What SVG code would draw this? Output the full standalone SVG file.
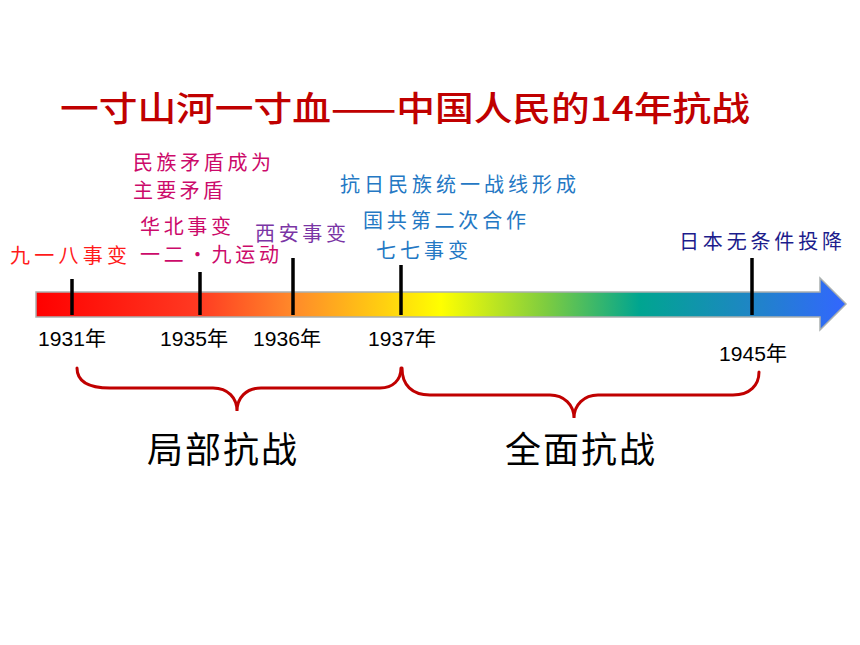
<svg xmlns="http://www.w3.org/2000/svg" width="860" height="645" viewBox="0 0 860 645">
<defs>
<linearGradient id="barGrad" gradientUnits="userSpaceOnUse" x1="36" y1="0" x2="846" y2="0">
<stop offset="0" stop-color="#ff0000"/>
<stop offset="0.2" stop-color="#ff3a22"/>
<stop offset="0.318" stop-color="#ff8a2a"/>
<stop offset="0.43" stop-color="#ffd010"/>
<stop offset="0.5" stop-color="#ffff00"/>
<stop offset="0.63" stop-color="#7dcc40"/>
<stop offset="0.745" stop-color="#00a590"/>
<stop offset="0.88" stop-color="#1e86c4"/>
<stop offset="1" stop-color="#3366ff"/>
</linearGradient>
<style>
.ev{font-family:"Noto Sans CJK SC","Noto Sans CJK JP",sans-serif;font-size:20px;}
.yr{font-family:"Liberation Sans","Noto Sans CJK SC",sans-serif;font-size:20px;fill:#000;}
.ph{font-family:"Noto Sans CJK SC",sans-serif;font-size:36px;fill:#000;}
.tick{stroke:#000;stroke-width:3.5;}
.brace{fill:none;stroke:#c00000;stroke-width:3;stroke-linecap:round;}
.red{fill:#ff1a1a;}
.mag{fill:#cc0a6a;}
.pur{fill:#7a35a5;}
.blu{fill:#2478c4;}
.dbl{fill:#1c1c8c;}
</style>
</defs>
<rect width="860" height="645" fill="#ffffff"/>
<g id="title">
<text x="60" y="121" font-family="Noto Sans CJK SC, sans-serif" font-size="34" font-weight="500" fill="#c00000" textLength="690" lengthAdjust="spacingAndGlyphs">一寸山河一寸血——中国人民的14年抗战</text>
</g>
<g id="timeline">
<path d="M36,292 L820,292 L820,278 L846,304 L820,330 L820,317 L36,317 Z" fill="url(#barGrad)" stroke="#aab0b0" stroke-width="1.5"/>
</g>
<g id="connectors">
<line class="tick" x1="72" y1="279" x2="72" y2="315"/>
<line class="tick" x1="200" y1="272" x2="200" y2="315"/>
<line class="tick" x1="293" y1="258" x2="293" y2="315"/>
<line class="tick" x1="401" y1="265" x2="401" y2="315"/>
<line class="tick" x1="752" y1="258" x2="752" y2="315"/>
<path class="brace" d="M77,368 C77,382 90,388 110,388 L213,388 C228,388 237,398 237,411 C237,398 246,388 261,388 L380,388 C393,388 401,380 401,368"/>
<path class="brace" d="M402,368 C402,385 412,395 430,395 L550,395 C564,395 574,405 574,418 C574,405 584,395 598,395 L733,395 C750,395 759,385 759,372"/>
</g>
<g id="y1931">
<text class="ev red" x="10" y="263" textLength="117" lengthAdjust="spacing">九一八事变</text>
<text class="yr" x="38" y="346" textLength="68" lengthAdjust="spacingAndGlyphs">1931年</text>
</g>
<g id="y1935">
<text class="ev mag" x="133" y="170" textLength="138" lengthAdjust="spacing">民族矛盾成为</text>
<text class="ev mag" x="133" y="198" textLength="90" lengthAdjust="spacing">主要矛盾</text>
<text class="ev mag" x="140" y="234" textLength="91" lengthAdjust="spacing">华北事变</text>
<text class="ev mag" x="140" y="262" textLength="139" lengthAdjust="spacing">一二・九运动</text>
<text class="yr" x="160" y="346" textLength="68" lengthAdjust="spacingAndGlyphs">1935年</text>
</g>
<g id="y1936">
<text class="ev pur" x="255" y="241" textLength="91" lengthAdjust="spacing">西安事变</text>
<text class="yr" x="253" y="346" textLength="68" lengthAdjust="spacingAndGlyphs">1936年</text>
</g>
<g id="y1937">
<text class="ev blu" x="340" y="192" textLength="236" lengthAdjust="spacing">抗日民族统一战线形成</text>
<text class="ev blu" x="363" y="228" textLength="163" lengthAdjust="spacing">国共第二次合作</text>
<text class="ev blu" x="376" y="258" textLength="92" lengthAdjust="spacing">七七事变</text>
<text class="yr" x="368" y="346" textLength="68" lengthAdjust="spacingAndGlyphs">1937年</text>
</g>
<g id="y1945">
<text class="ev dbl" x="679" y="249" textLength="163" lengthAdjust="spacing">日本无条件投降</text>
<text class="yr" x="719" y="361" textLength="68" lengthAdjust="spacingAndGlyphs">1945年</text>
</g>
<g id="phase-local">
<text class="ph" x="147" y="463" textLength="150" lengthAdjust="spacing">局部抗战</text>
</g>
<g id="phase-full">
<text class="ph" x="505" y="463" textLength="150" lengthAdjust="spacing">全面抗战</text>
</g>
</svg>
